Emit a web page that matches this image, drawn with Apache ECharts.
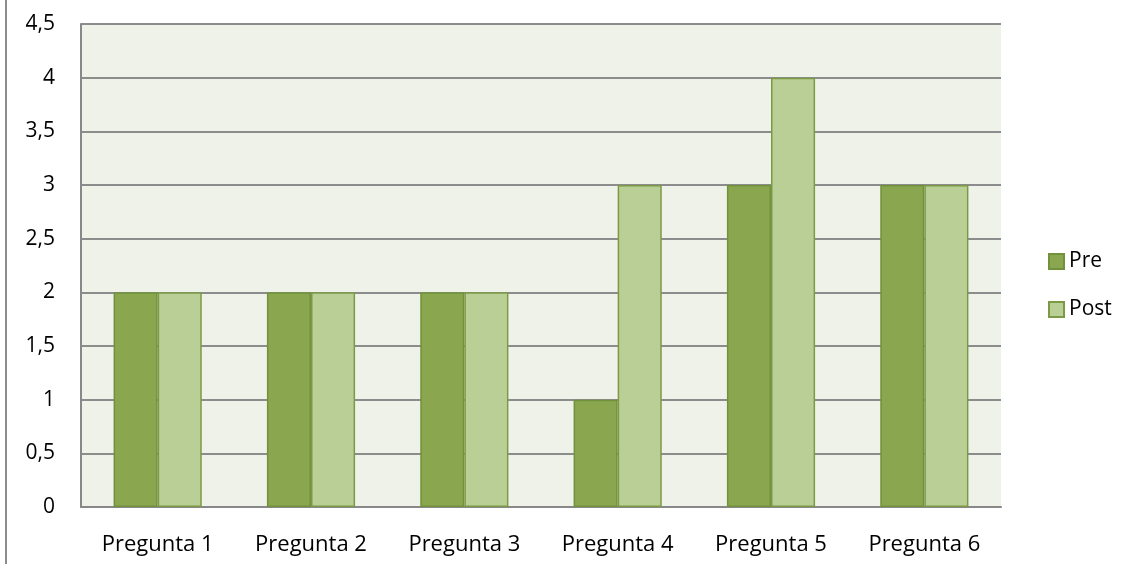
<!DOCTYPE html>
<html>
<head>
<meta charset="utf-8">
<script src="https://cdn.jsdelivr.net/npm/echarts@6/dist/echarts.min.js"></script>
<style>
  html, body { margin: 0; padding: 0; background: #fff; }
  #chart { width: 1128px; height: 569px; }
  /* borde izquierdo del marco del gráfico */
  .frame { position: absolute; left: 5px; top: 0; width: 0; height: 564px; border-left: 2px solid #8c8c8c; }
</style>
</head>
<body>
<div class="frame"></div>
<div id="chart"></div>
<script>
// categorías y valores
const categories = ['Pregunta 1', 'Pregunta 2', 'Pregunta 3', 'Pregunta 4', 'Pregunta 5', 'Pregunta 6']
const preValues = [2, 2, 2, 1, 3, 3]
const postValues = [2, 2, 2, 3, 4, 3]

const chart = echarts.init(document.getElementById('chart'))

const option = {
  animation: false,
  textStyle: { fontFamily: 'Open Sans' },
  grid: {
    left: 81,
    right: 127,
    top: 24,
    bottom: 62,
    show: true,
    backgroundColor: '#eff2e9',
    borderWidth: 0
  },
  legend: {
    orient: 'vertical',
    left: 1043,
    top: 246,
    itemWidth: 15,
    itemHeight: 15,
    itemGap: 27,
    icon: 'rect',
    textStyle: { fontSize: 21, color: '#000', fontFamily: 'Open Sans' },
    data: ['Pre', 'Post']
  },
  xAxis: {
    type: 'category',
    data: categories,
    axisLine: { lineStyle: { color: '#888', width: 2 } },
    axisTick: { show: false },
    axisLabel: { color: '#000', fontSize: 22, margin: 27 }
  },
  yAxis: {
    type: 'value',
    min: 0,
    max: 4.5,
    interval: 0.5,
    axisLine: { show: true, lineStyle: { color: '#888', width: 2 } },
    axisTick: { show: false },
    splitLine: { lineStyle: { color: '#8c8c8c', width: 2 } },
    axisLabel: {
      color: '#000',
      fontSize: 21,
      margin: 26,
      formatter: v => String(v).replace('.', ',')
    }
  },
  series: [
    {
      name: 'Pre',
      type: 'bar',
      data: preValues,
      barGap: '0%',
      barCategoryGap: '42.5%',
      itemStyle: { color: '#8aa74f', borderColor: '#71913d', borderWidth: 1.5 }
    },
    {
      name: 'Post',
      type: 'bar',
      data: postValues,
      itemStyle: { color: '#b9cf96', borderColor: '#7c9a46', borderWidth: 1.5 }
    }
  ]
}

chart.setOption(option)
</script>
</body>
</html>
